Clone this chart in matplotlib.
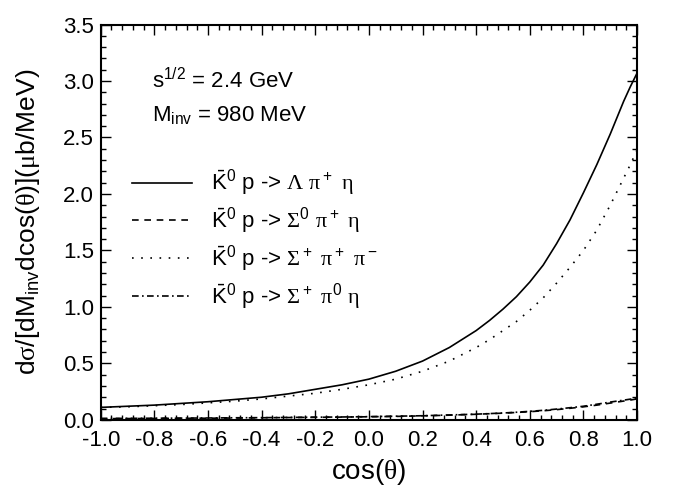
import numpy as np
import matplotlib
matplotlib.use('Agg')
import matplotlib.pyplot as plt
from matplotlib.ticker import MultipleLocator, FormatStrFormatter

plt.rcParams['font.family'] = ['Liberation Sans', 'DejaVu Sans']
plt.rcParams['mathtext.fontset'] = 'custom'
plt.rcParams['mathtext.rm'] = 'Liberation Sans'
plt.rcParams['mathtext.it'] = 'Liberation Sans:italic'
plt.rcParams['mathtext.sf'] = 'Liberation Serif'
plt.rcParams['mathtext.bf'] = 'Liberation Sans:bold'

# cos(theta) grid
cos_theta = [-1.0, -0.9, -0.8, -0.7, -0.6, -0.5, -0.4, -0.3, -0.2, -0.1, 0.0,
             0.1, 0.2, 0.3, 0.4, 0.45, 0.5, 0.55, 0.6, 0.65, 0.7, 0.75, 0.8,
             0.85, 0.9, 0.95, 0.975, 1.0]

# K0bar p -> Lambda pi+ eta
lam_pip_eta = [0.11, 0.12, 0.13, 0.145, 0.16, 0.18, 0.20, 0.23, 0.27, 0.31, 0.36,
               0.43, 0.52, 0.64, 0.79, 0.88, 0.98, 1.09, 1.22, 1.37, 1.56, 1.77, 2.01,
               2.26, 2.53, 2.82, 2.95, 3.07]
# K0bar p -> Sigma0 pi+ eta
sig0_pip_eta = [0.010, 0.011, 0.012, 0.013, 0.014, 0.016, 0.018, 0.020, 0.022, 0.024, 0.027,
                0.030, 0.035, 0.041, 0.049, 0.054, 0.059, 0.065, 0.072, 0.080, 0.090, 0.102, 0.115,
                0.130, 0.148, 0.166, 0.175, 0.185]
# K0bar p -> Sigma+ pi+ pi-
sigp_pip_pim = [0.11, 0.115, 0.125, 0.135, 0.15, 0.165, 0.185, 0.21, 0.235, 0.27, 0.31,
                0.36, 0.43, 0.52, 0.64, 0.71, 0.79, 0.87, 0.97, 1.08, 1.21, 1.35, 1.50,
                1.68, 1.90, 2.14, 2.26, 2.39]
# K0bar p -> Sigma+ pi0 eta
sigp_pi0_eta = [0.012, 0.013, 0.014, 0.015, 0.016, 0.018, 0.019, 0.021, 0.023, 0.025, 0.028,
                0.032, 0.036, 0.043, 0.050, 0.055, 0.060, 0.067, 0.075, 0.084, 0.095, 0.107, 0.120,
                0.138, 0.157, 0.174, 0.183, 0.192]

labels = [r'$\bar{\rm K}^0$ p -> $\mathsf{\Lambda}$ $\mathsf{\pi}^+$ $\mathsf{\eta}$',
          r'$\bar{\rm K}^0$ p -> $\mathsf{\Sigma}^0$ $\mathsf{\pi}^+$ $\mathsf{\eta}$',
          r'$\bar{\rm K}^0$ p -> $\mathsf{\Sigma}^+$ $\mathsf{\pi}^+$ $\mathsf{\pi}^-$',
          r'$\bar{\rm K}^0$ p -> $\mathsf{\Sigma}^+$ $\mathsf{\pi}^0$ $\mathsf{\eta}$']

fig = plt.figure(figsize=(6.85, 4.91), dpi=100)
ax = fig.add_axes([0.147, 0.145, 0.783, 0.805])

ax.plot(cos_theta, lam_pip_eta, color='black', lw=1.2, ls='-', label=labels[0])
ax.plot(cos_theta, sig0_pip_eta, color='black', lw=1.2, ls=(0, (4, 3.4)), label=labels[1])
ax.plot(cos_theta, sigp_pip_pim, color='black', lw=1.2, ls=(0, (1, 4.5)), label=labels[2])
ax.plot(cos_theta, sigp_pi0_eta, color='black', lw=1.2, ls=(0, (4, 2, 1, 2)), label=labels[3])

ax.set_xlim(-1.0, 1.0)
ax.set_ylim(0.0, 3.5)
ax.xaxis.set_major_locator(MultipleLocator(0.2))
ax.xaxis.set_minor_locator(MultipleLocator(0.04))
ax.yaxis.set_major_locator(MultipleLocator(0.5))
ax.yaxis.set_minor_locator(MultipleLocator(0.1))
ax.xaxis.set_major_formatter(FormatStrFormatter('%.1f'))
ax.yaxis.set_major_formatter(FormatStrFormatter('%.1f'))
ax.tick_params(which='both', direction='in', top=True, right=True, labelsize=16, width=1.0)
ax.tick_params(which='major', length=7)
ax.tick_params(axis='x', which='major', pad=7)
ax.tick_params(axis='y', which='major', pad=5)
ax.tick_params(which='minor', length=3.5)
for s in ax.spines.values():
    s.set_linewidth(1.5)

ax.set_xlabel(r'cos($\mathsf{\theta}$)', fontsize=20, labelpad=5)
ax.set_ylabel(r'd$\mathsf{\sigma}$/[dM$_{\rm inv}$dcos($\mathsf{\theta}$)]($\mathsf{\mu}$b/MeV)',
              fontsize=19, labelpad=15)

ax.text(-0.81, 2.94, r's$^{1/2}$ = 2.4 GeV', fontsize=16)
ax.text(-0.81, 2.64, r'M$_{\rm inv}$ = 980 MeV', fontsize=16)

ax.legend(loc='upper left', bbox_to_anchor=(0.193, 0.658), bbox_transform=fig.transFigure,
          frameon=False, fontsize=16, handlelength=2.7, handletextpad=0.85,
          labelspacing=0.33, borderpad=0, borderaxespad=0)

fig.savefig('out.png', dpi=100)
